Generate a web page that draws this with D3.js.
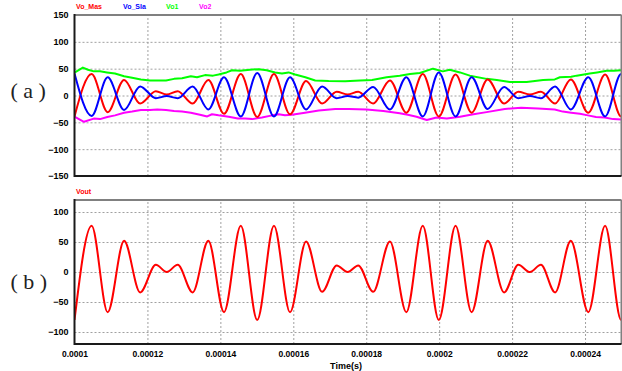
<!DOCTYPE html>
<html>
<head>
<meta charset="utf-8">
<script src="https://cdn.jsdelivr.net/npm/d3@7"></script>
<style>
  body { margin: 0; background: #fff; }
  svg { display: block; }
  .tick-label text { font-family: "Liberation Sans", Arial, sans-serif; font-weight: bold; font-size: 9px; fill: #000; }
  .grid line { stroke: #a0a0a0; stroke-dasharray: 2,2; }
</style>
</head>
<body>
<div id="chart"></div>
<script>
// ---- data (time in microseconds) ----
const legendNames = ['Vo_Mas', 'Vo_Sla', 'Vo1', 'Vo2'];
const legendColors = ['#ff0000', '#0000ff', '#00ff00', '#ff00ff'];

const xTickValues = [0.0001, 0.00012, 0.00014, 0.00016, 0.00018, 0.0002, 0.00022, 0.00024];
const xTickLabels = ['0.0001', '0.00012', '0.00014', '0.00016', '0.00018', '0.0002', '0.00022', '0.00024'];
const yTicksA = [-150, -100, -50, 0, 50, 100, 150];
const yTicksB = [-100, -50, 0, 50, 100];

// peaks / troughs of the carrier
const waveT = [100.0, 104.7, 109.1, 113.6, 118.0, 122.3, 125.3, 128.3, 132.4, 136.7,
  141.0, 145.6, 150.1, 154.7, 159.1, 163.5, 167.9, 171.9, 174.9, 177.8,
  181.9, 186.5, 191.0, 195.5, 199.9, 204.5, 208.9, 213.3, 217.8, 221.7,
  224.9, 227.9, 231.8, 236.1, 240.9, 245.5, 249.9, 250.5];
const voMas = [-39, 40, -31, 29, -15, 8, 2, 8, -15, 29,
  -34, 40, -40, 40, -35, 27, -15, 7, 2, 7,
  -15, 28, -32, 40, -39, 39, -32, 30, -15, 7,
  2, 7, -15, 30, -32, 39, -39, -39];
const voSla = [41, -38, 34, -27, 17, -5, -1, -5, 17, -26,
  34, -39, 42, -39, 34, -26, 17, -5, -1, -4,
  16, -26, 34, -39, 43, -39, 34, -25, 16, -5,
  -1, -5, 17, -26, 34, -39, 40, 40];
const vout = [-80, 77, -67, 52, -34, 12, 0, 12, -34, 52,
  -67, 77, -80, 77, -67, 51, -33, 11, 0, 11,
  -33, 51, -67, 77, -80, 77, -67, 52, -34, 12,
  0, 12, -34, 52, -67, 77, -80, -80];

const vo1T = [100.1, 102.3, 103.7, 105.3, 107.0, 108.9, 111.1, 113.6, 115.8, 118.2,
  120.7, 122.7, 125.1, 127.3, 129.5, 131.9, 133.6, 135.8, 138.0, 139.5,
  141.7, 143.2, 145.4, 148.1, 150.5, 152.7, 155.0, 156.9, 158.7, 160.5,
  163.3, 166.0, 169.7, 174.2, 178.3, 181.6, 185.6, 189.2, 192.0, 194.7,
  198.3, 201.0, 202.9, 205.7, 208.4, 213.0, 215.8, 219.4, 224.0, 228.5,
  231.7, 233.1, 236.2, 237.7, 241.3, 243.3, 245.9, 247.9, 250.0];
const vo1 = [43, 52, 48, 45, 45, 43, 41, 36, 33, 30,
  28, 28, 28, 31, 32, 36, 34, 38, 37, 39,
  43, 47, 46, 48, 49, 47, 43, 41, 43, 39,
  34, 28, 27, 26.5, 28, 29, 34, 37, 40, 42,
  50, 45, 48, 43, 37, 31, 29, 25, 25, 29,
  30, 34, 35, 37, 41, 43, 46, 46, 47];

const vo2T = [100.1, 102.6, 105.3, 107.0, 109.0, 111.1, 113.6, 115.8, 118.2, 120.7,
  122.7, 125.1, 127.3, 129.5, 131.9, 134.4, 136.4, 137.7, 139.5, 142.3,
  144.8, 146.8, 148.7, 151.4, 154.2, 156.0, 157.7, 159.6, 163.2, 167.0,
  171.5, 175.2, 180.1, 184.7, 189.2, 191.4, 193.8, 196.6, 199.3, 202.1,
  205.7, 209.4, 213.0, 218.0, 222.5, 227.1, 231.7, 233.9, 236.2, 238.6,
  240.8, 243.0, 245.4, 247.7, 250.0];
const vo2 = [-40, -49, -43, -44, -40, -37, -32, -30, -27, -27,
  -26, -27, -29, -30, -32, -36, -39, -35, -37, -39.5,
  -43, -43, -44, -41, -37, -35, -37, -36, -32, -28,
  -25, -25, -26, -29, -33, -36, -39.5, -45.6, -41, -43,
  -39.5, -35, -31, -25, -23, -24, -26, -30, -32, -34,
  -37, -40, -41, -44, -44.5];

// ---- layout ----
const W = 622, H = 371;
const left = 74.5, right = 621.5;
const panelA = { top: 15, bottom: 176, domain: [-150, 150], ticks: yTicksA, id: 'a' };
const panelB = { top: 200, bottom: 344, domain: [-120, 120], ticks: yTicksB, id: 'b' };

const svg = d3.select('#chart').append('svg').attr('width', W).attr('height', H);
const x = d3.scaleLinear().domain([0.0001, 0.00025]).range([left, right]);

function createPanel(p) {
  const y = d3.scaleLinear().domain(p.domain).range([p.bottom, p.top]);
  const g = svg.append('g');

  g.append('defs').append('clipPath').attr('id', 'clip-' + p.id)
    .append('rect')
    .attr('x', left).attr('y', p.top)
    .attr('width', right - left).attr('height', p.bottom - p.top);

  // grid
  g.append('g').attr('class', 'grid')
    .call(d3.axisLeft(y).tickValues(p.ticks.filter(v => v > p.domain[0] && v < p.domain[1]))
      .tickSize(-(right - left)).tickFormat(''))
    .attr('transform', `translate(${left},0)`)
    .call(a => a.select('.domain').remove());

  g.append('g').attr('class', 'grid')
    .attr('transform', `translate(0,${p.bottom})`)
    .call(d3.axisBottom(x).tickValues(xTickValues.slice(1))
      .tickSize(-(p.bottom - p.top)).tickFormat(''))
    .call(a => a.select('.domain').remove());

  // y tick labels
  g.append('g').attr('class', 'tick-label')
    .attr('transform', `translate(${left},0)`)
    .call(d3.axisLeft(y).tickValues(p.ticks).tickSize(0).tickPadding(6))
    .call(a => a.select('.domain').remove());

  const plot = g.append('g').attr('clip-path', `url(#clip-${p.id})`);
  return { g, y, plot };
}

function drawFrame(p) {
  const f = svg.append('g').attr('fill', 'none').attr('stroke-width', 2);
  f.append('line').attr('x1', left).attr('x2', right).attr('y1', p.top).attr('y2', p.top).attr('stroke', '#808080');
  f.append('line').attr('x1', right).attr('x2', right).attr('y1', p.top).attr('y2', p.bottom).attr('stroke', '#808080');
  f.append('line').attr('x1', left).attr('x2', left).attr('y1', p.top - 1).attr('y2', p.bottom + 1).attr('stroke', '#1a1a1a');
  f.append('line').attr('x1', left).attr('x2', right).attr('y1', p.bottom).attr('y2', p.bottom).attr('stroke', '#1a1a1a');
}

function drawSeries(panel, ts, vs, color, curve) {
  const pts = ts.map((t, i) => [t * 1e-6, vs[i]]);
  const line = d3.line()
    .x(d => x(d[0]))
    .y(d => panel.y(d[1]))
    .curve(curve);
  panel.plot.append('path')
    .datum(pts)
    .attr('fill', 'none')
    .attr('stroke', color)
    .attr('stroke-width', 2)
    .attr('stroke-linejoin', 'round')
    .attr('d', line);
}

const a = createPanel(panelA);
drawSeries(a, vo1T, vo1, legendColors[2], d3.curveLinear);
drawSeries(a, vo2T, vo2, legendColors[3], d3.curveLinear);
drawSeries(a, waveT, voMas, legendColors[0], d3.curveMonotoneX);
drawSeries(a, waveT, voSla, legendColors[1], d3.curveMonotoneX);
drawFrame(panelA);

const b = createPanel(panelB);
drawSeries(b, waveT, vout, '#ff0000', d3.curveMonotoneX);
drawFrame(panelB);

// x tick labels (bottom panel only)
svg.append('g').attr('class', 'tick-label')
  .attr('transform', `translate(0,${panelB.bottom})`)
  .call(d3.axisBottom(x).tickValues(xTickValues).tickSize(0).tickPadding(7)
    .tickFormat((d, i) => xTickLabels[i]))
  .call(ax => ax.select('.domain').remove())
  .selectAll('text').style('font-size', '8.5px');

svg.append('text')
  .attr('x', 346).attr('y', 368.5)
  .attr('text-anchor', 'middle')
  .style('font-family', '"Liberation Sans", Arial, sans-serif')
  .style('font-weight', 'bold').style('font-size', '9px')
  .text('Time(s)');

// legend
const legendX = [76, 123, 166, 199];
svg.append('g').selectAll('text')
  .data(legendNames)
  .enter().append('text')
  .attr('x', (d, i) => legendX[i]).attr('y', 8.5)
  .attr('fill', (d, i) => legendColors[i])
  .style('font-family', '"Liberation Sans", Arial, sans-serif')
  .style('font-weight', 'bold').style('font-size', '7px')
  .text(d => d);

svg.append('text')
  .attr('x', 76).attr('y', 193.5)
  .attr('fill', '#ff0000')
  .style('font-family', '"Liberation Sans", Arial, sans-serif')
  .style('font-weight', 'bold').style('font-size', '7px')
  .text('Vout');

// panel letters
[['( a )', 98], ['( b )', 289]].forEach(([s, yy]) => {
  svg.append('text')
    .attr('x', 10.5).attr('y', yy)
    .attr('fill', '#222')
    .style('font-family', '"Liberation Serif", "DejaVu Serif", serif')
    .style('font-size', '22px')
    .style('white-space', 'pre')
    .text(s);
});
</script>
</body>
</html>
